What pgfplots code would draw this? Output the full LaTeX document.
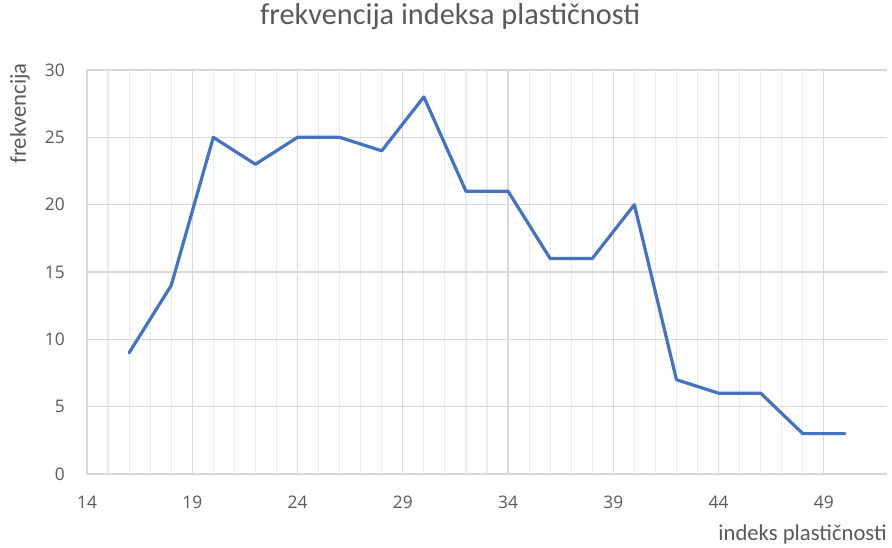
\documentclass[border=0pt]{standalone}
\usepackage{fontspec}
\setmainfont{Carlito}
\newfontfamily\tickfont{Open Sans}
\usepackage{pgfplots}
\pgfplotsset{compat=1.18}

\definecolor{txtgray}{HTML}{595959}
\definecolor{majgrid}{HTML}{D9D9D9}
\definecolor{mingrid}{HTML}{EBEBEB}
\definecolor{lineblue}{HTML}{4472C4}

\begin{document}
\begin{tikzpicture}
\begin{axis}[
    name=ax,
    scale only axis,
    width=600pt,
    height=303pt,
    xmin=14, xmax=52,
    ymin=0, ymax=30,
    xtick={14,19,...,49},
    ytick={0,5,...,30},
    minor x tick num=4,
    major tick length=0pt,
    minor tick length=0pt,
    xmajorgrids, ymajorgrids, xminorgrids,
    major grid style={majgrid, line width=0.9pt},
    minor grid style={mingrid, line width=0.9pt},
    axis x line*=bottom,
    axis y line*=left,
    x axis line style={draw=majgrid, line width=1pt, -},
    y axis line style={draw=none},
    /pgf/number format/assume math mode=true,
    tick label style={font=\tickfont\fontsize{13}{15}\selectfont, text=txtgray, inner sep=0pt},
    xticklabel style={anchor=north, yshift=-16.5pt},
    yticklabel style={anchor=east, xshift=-16.5pt},
    title={frekvencija indeksa plastičnosti},
    title style={at={(axis description cs:0.454,1.0916)}, anchor=base, inner sep=0pt,
        font=\fontsize{22.7}{26}\selectfont, text=txtgray},
    ylabel={frekvencija},
    ylabel style={at={(axis description cs:-0.0838,1.017)}, anchor=east, inner sep=0pt,
        font=\fontsize{17}{20}\selectfont, text=txtgray},
    xlabel={indeks plastičnosti},
    xlabel style={at={(axis description cs:1,-0.1634)}, anchor=base east, inner sep=0pt,
        font=\fontsize{17}{20}\selectfont, text=txtgray},
]
\addplot[lineblue, line width=2.4pt, line join=round, line cap=round] coordinates {
    (16,9) (18,14) (20,25) (22,23) (24,25) (26,25) (28,24) (30,28) (32,21)
    (34,21) (36,16) (38,16) (40,20) (42,7) (44,6) (46,6) (48,3) (50,3)
};
\end{axis}
\pgfresetboundingbox
\useasboundingbox ([xshift=-65.25pt,yshift=-54.75pt]ax.south west) rectangle ([xshift=3.75pt,yshift=52.5pt]ax.north east);
\end{tikzpicture}
\end{document}
